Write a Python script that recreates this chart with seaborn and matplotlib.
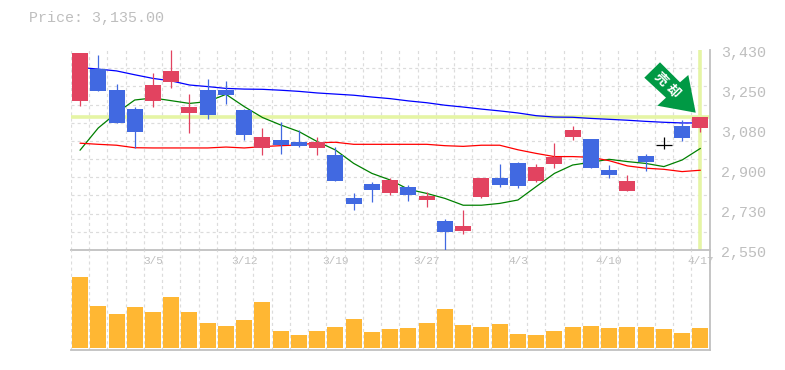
import matplotlib
matplotlib.use("Agg")
import numpy as np
import pandas as pd
import seaborn as sns
from matplotlib import pyplot as plt
from matplotlib.patches import Polygon
from matplotlib.transforms import ScaledTranslation

opens = [3206, 3346, 3254, 3170, 3206, 3289, 3153, 3254, 3254, 3166, 2999, 3034, 3025, 2999, 2968, 2779, 2840, 2801,
         2827, 2770, 2678, 2634, 2783, 2867, 2933, 2854, 2928, 3047, 3038, 2902, 2810, 2964, 3012, 3096, 3087]
closes = [3417, 3250, 3109, 3069, 3276, 3338, 3179, 3144, 3232, 3056, 3047, 3012, 3008, 3025, 2854, 2752, 2814, 2858,
          2792, 2788, 2629, 2656, 2867, 2836, 2832, 2915, 2959, 3078, 2911, 2880, 2854, 2937, 3012, 3043, 3135]
highs = [3417, 3408, 3280, 3179, 3329, 3430, 3236, 3302, 3294, 3170, 3087, 3113, 3078, 3047, 3003, 2801, 2849, 2867,
         2836, 2805, 2686, 2726, 2867, 2928, 2937, 2928, 3021, 3096, 3038, 2924, 2880, 2972, 3047, 3122, 3135]
lows = [3184, 3250, 3109, 2999, 3179, 3263, 3065, 3126, 3192, 3034, 2968, 2972, 3003, 2968, 2854, 2726, 2761, 2792,
        2766, 2739, 2550, 2620, 2779, 2827, 2823, 2849, 2911, 3034, 2911, 2867, 2810, 2898, 2994, 3030, 3069]
ma_green = [2989, 3087, 3153, 3210, 3219, 3207, 3195, 3203, 3235, 3181, 3133, 3100, 3071, 3027, 2990, 2931, 2887, 2858,
            2817, 2799, 2777, 2747, 2747, 2755, 2770, 2829, 2887, 2924, 2936, 2949, 2939, 2931, 2917, 2946, 2997]
ma_red = [3020, 3015, 3011, 3000, 2999, 2999, 2999, 2999, 3003, 2999, 3005, 3009, 3012, 3022, 3024, 3015, 3015, 3015,
          3015, 3015, 3009, 3006, 3011, 3011, 2991, 2975, 2961, 2961, 2958, 2943, 2920, 2910, 2905, 2895, 2901]
ma_blue = [3353, 3346, 3338, 3321, 3305, 3294, 3276, 3269, 3261, 3258, 3257, 3253, 3248, 3241, 3236, 3231, 3223, 3216,
           3206, 3198, 3187, 3179, 3170, 3162, 3153, 3141, 3135, 3134, 3129, 3125, 3121, 3116, 3112, 3109, 3109]
volumes = [21300, 12600, 10200, 12300, 10800, 15300, 10800, 7500, 6600, 8400, 13800, 5100, 3900, 5100, 6300, 8700,
           4800, 5700, 6000, 7500, 11700, 6900, 6300, 7200, 4200, 3900, 5100, 6300, 6600, 6000, 6300, 6300, 5700,
           4500, 6000]
date_ticks = [4, 9, 14, 19, 24, 29, 34]
date_labels = ["3/5", "3/12", "3/19", "3/27", "4/3", "4/10", "4/17"]
price_ticks = [3430, 3254, 3078, 2902, 2726, 2550]
price_labels = ["3,430", "3,250", "3,080", "2,900", "2,730", "2,550"]

RED = "#E24360"
BLUE = "#4169E1"
ORANGE = "#FFB733"
HILITE = "#E5F5A5"
GRID = "#DCDCDC"
AXIS = "#C0C0C0"
TEXT = "#BEBEBE"
W, H = 785, 370

sns.set_theme(style="white")
plt.rcParams["font.family"] = ["Liberation Mono", "DejaVu Sans Mono"]

df = pd.DataFrame({
    "idx": range(len(opens)), "open": opens, "close": closes, "high": highs, "low": lows,
    "green": ma_green, "red": ma_red, "blue": ma_blue, "volume": volumes,
})

fig = plt.figure(figsize=(W / 100, H / 100), dpi=100)
left, width = 70.9 / W, 638.6 / W
ax = fig.add_axes([left, 1 - 250 / H, width, 200 / H])
ax_vol = fig.add_axes([left, 1 - 350 / H, width, 100 / H])

# moving averages sit under the candles
for col, color in [("green", "#008000"), ("red", "#FF0000"), ("blue", "#0000FF")]:
    sns.lineplot(data=df, x="idx", y=col, color=color, linewidth=0.9, errorbar=None, legend=False, ax=ax, zorder=3)

ax.axhline(closes[-1], color=HILITE, linewidth=2.6, zorder=2)
ax.axvline(df["idx"].iloc[-1], color=HILITE, linewidth=2.6, zorder=2)

up = df[df["close"] > df["open"]]
down = df[df["close"] < df["open"]]
doji = df[df["close"] == df["open"]]
candle_w = 16 / 18.25
for part, color in [(up, RED), (down, BLUE), (doji, "black")]:
    ax.vlines(part["idx"], part["low"], part["high"], color=color, linewidth=0.9, zorder=4)
    ax.bar(part["idx"], part["close"] - part["open"], bottom=part["open"], width=candle_w, color=color,
           linewidth=0, zorder=5)
ax.hlines(doji["close"], doji["idx"] - candle_w / 2, doji["idx"] + candle_w / 2, color="black", linewidth=0.9, zorder=5)

sns.barplot(data=df, x="idx", y="volume", color=ORANGE, native_scale=True, width=candle_w, saturation=1,
            linewidth=0, ax=ax_vol, zorder=3)

ax.set_ylim(2550, 3430)
ax_vol.set_ylim(-600, 29400)
grid_x = np.arange(-0.5, len(opens))
for a in (ax, ax_vol):
    a.set_xlim(-0.5, len(opens) - 0.5)
    a.set(xlabel="", ylabel="")
    a.set_xticks(grid_x, minor=True)
    a.grid(True, which="minor", axis="x", color=GRID, linewidth=0.85, linestyle=(0, (2.6, 2.6)))
    a.set_axisbelow(True)
    a.tick_params(which="both", length=0)
    a.set_facecolor("white")
    a.patch.set_alpha(0)
    for side in ("top", "left"):
        a.spines[side].set_visible(False)
    for side in ("right", "bottom"):
        a.spines[side].set_color(AXIS)
        a.spines[side].set_linewidth(1.3)

ax.set_yticks(np.arange(2550, 3431, 80), minor=True)
ax.grid(True, which="minor", axis="y", color=GRID, linewidth=0.85, linestyle=(0, (2.6, 2.6)))
ax.set_xticks(date_ticks, date_labels)
ax.tick_params(axis="x", which="major", labelsize=8, labelcolor=TEXT, pad=4)
ax.yaxis.tick_right()
ax.set_yticks(price_ticks, price_labels)
ax.tick_params(axis="y", which="major", labelsize=10.8, labelcolor=TEXT, pad=8)
for lab in ax.get_yticklabels():
    lab.set_transform(lab.get_transform() + ScaledTranslation(0, -2 / 100, fig.dpi_scale_trans))
ax_vol.set_xticks([])
ax_vol.set_yticks([])

fig.text(29 / W, 1 - 18 / H, "Price: 3,135.00", color=TEXT, fontsize=10.8, ha="left", va="center")

# green call-out arrow
arrow_px = [(660, 62.3), (680, 82.3), (688.3, 75), (695.7, 112.7), (657.3, 105.7), (666, 97.7), (644.3, 77.7)]
fig.add_artist(Polygon([(x / W, 1 - y / H) for x, y in arrow_px], closed=True, color="#009944", linewidth=0,
                       transform=fig.transFigure, zorder=6))
for ch, (x, y) in zip("売却", [(660.7, 79), (673.3, 90.7)]):
    fig.text(x / W, 1 - y / H, ch, color="white", fontsize=9.5, fontweight="bold", rotation=-45, ha="center",
             va="center", family=["Noto Sans CJK JP", "DejaVu Sans"], zorder=7)

fig.savefig("out.png", dpi=100, facecolor="white")
